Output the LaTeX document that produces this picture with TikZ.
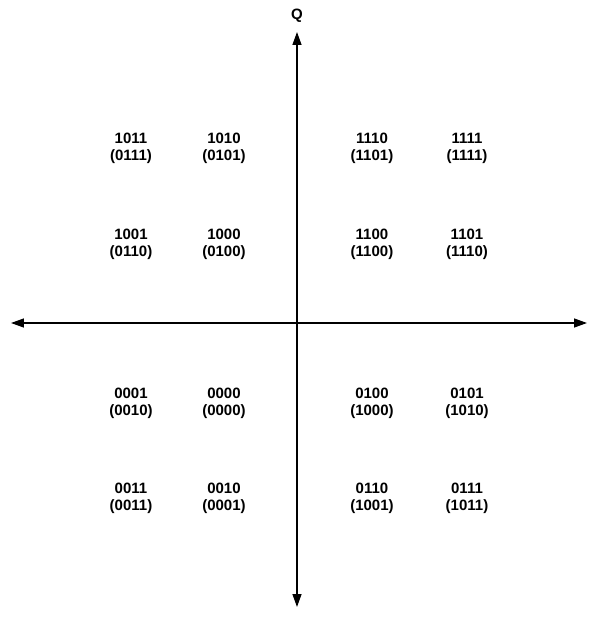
\documentclass[tikz,border=0pt]{standalone}
\usepackage{fontspec}
\setmainfont{Liberation Sans}
\usetikzlibrary{arrows.meta}

\begin{document}
\begin{tikzpicture}[x=1pt, y=1pt,
    axis/.style={line width=1.4pt, -{Triangle[length=13pt,width=9pt]}},
    symbol/.style={align=center, font=\fontsize{15}{17}\selectfont\bfseries, inner sep=0pt}]
    % page frame = reference 600 x 617, origin at the axis crossing
    \useasboundingbox (-297,-294) rectangle (303,323);
    \coordinate (origin) at (0,0);
    \coordinate (west) at (-286,0);
    \coordinate (east) at (290,0);
    \coordinate (north) at (0,291);
    \coordinate (south) at (0,-284);
    \draw[axis] (origin) -- (west);
    \draw[axis] (origin) -- (east);
    \draw[axis] (origin) -- (north);
    \draw[axis] (origin) -- (south);
    \node[font=\fontsize{15}{17}\selectfont\bfseries] (qlab) at (0,307) {Q};
    % constellation points: gray code (in brackets: mapping)
    \foreach \px/\py/\code/\map in {
        -166/175/1011/0111, -73/175/1010/0101, 75/175/1110/1101, 170/175/1111/1111,
        -166/79/1001/0110, -73/79/1000/0100, 75/79/1100/1100, 170/79/1101/1110,
        -166/-80/0001/0010, -73/-80/0000/0000, 75/-80/0100/1000, 170/-80/0101/1010,
        -166/-175/0011/0011, -73/-175/0010/0001, 75/-175/0110/1001, 170/-175/0111/1011}
      \node[symbol] (s\code) at (\px,\py) {\code\\(\map)};
\end{tikzpicture}
\end{document}
